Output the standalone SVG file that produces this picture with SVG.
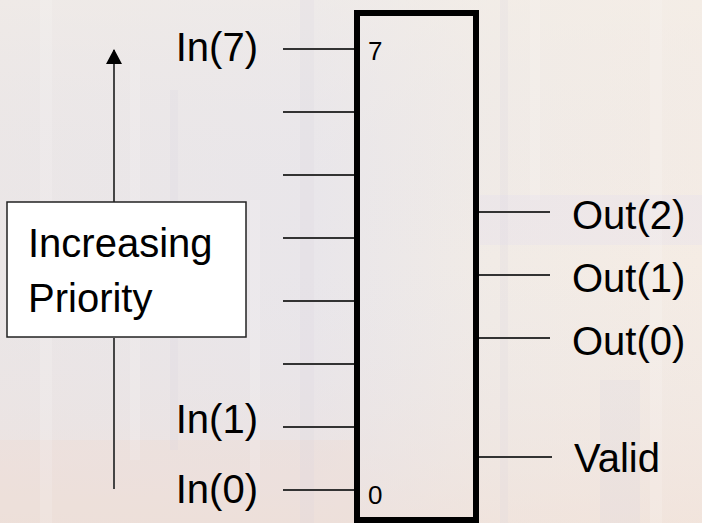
<svg xmlns="http://www.w3.org/2000/svg" width="702" height="523" viewBox="0 0 702 523">
<defs>
<linearGradient id="bgH" x1="0" y1="0" x2="1" y2="0">
<stop offset="0" stop-color="#ebe6e6"/>
<stop offset="0.45" stop-color="#e9e6ea"/>
<stop offset="0.7" stop-color="#f1ebe6"/>
<stop offset="1" stop-color="#f5ece4"/>
</linearGradient>
<linearGradient id="bgV" x1="0" y1="0" x2="0" y2="1">
<stop offset="0" stop-color="#f3eee8" stop-opacity="0.5"/>
<stop offset="0.5" stop-color="#e6e4ea" stop-opacity="0"/>
<stop offset="1" stop-color="#efded6" stop-opacity="0.55"/>
</linearGradient>
<marker id="arrow" viewBox="0 0 15 16" refX="14" refY="8" markerWidth="15" markerHeight="16" markerUnits="userSpaceOnUse" orient="auto">
<path d="M0 0 L15 8 L0 16 Z" fill="#000"/>
</marker>
</defs>
<style>
.wire{stroke:#333;stroke-width:1.8;fill:none}
.lbl{font-family:"Liberation Sans",Arial,sans-serif;font-size:40px;fill:#000}
.pin{font-family:"Liberation Sans",Arial,sans-serif;font-size:26px;fill:#000}
.box{fill:none;stroke:#000;stroke-width:6}
.stripe{fill:#ffffff;opacity:0.15}
.stripe2{fill:#d8d2dc;opacity:0.18}
</style>
<g id="background">
<rect x="0" y="0" width="702" height="523" fill="url(#bgH)"/>
<rect x="0" y="0" width="702" height="523" fill="url(#bgV)"/>
<rect x="480" y="195" width="222" height="50" fill="#e4dfee" opacity="0.3"/>
<rect x="0" y="440" width="360" height="83" fill="#efdcd2" opacity="0.3"/>
<rect class="stripe" x="40" y="0" width="12" height="523"/>
<rect class="stripe" x="130" y="60" width="10" height="400"/>
<rect class="stripe2" x="170" y="90" width="8" height="360"/>
<rect class="stripe" x="250" y="200" width="10" height="300"/>
<rect class="stripe2" x="300" y="0" width="14" height="523"/>
<rect class="stripe2" x="500" y="0" width="8" height="523"/>
<rect class="stripe" x="530" y="0" width="10" height="200"/>
<rect class="stripe2" x="600" y="380" width="40" height="143"/>
<rect class="stripe" x="650" y="0" width="12" height="523"/>
</g>
<g id="connectors">
<line class="wire" x1="283" y1="49" x2="355" y2="49"/>
<line class="wire" x1="283" y1="112" x2="355" y2="112"/>
<line class="wire" x1="283" y1="175" x2="355" y2="175"/>
<line class="wire" x1="283" y1="238" x2="355" y2="238"/>
<line class="wire" x1="283" y1="301" x2="355" y2="301"/>
<line class="wire" x1="283" y1="364" x2="355" y2="364"/>
<line class="wire" x1="283" y1="427" x2="355" y2="427"/>
<line class="wire" x1="283" y1="490" x2="355" y2="490"/>
<line class="wire" x1="478" y1="212" x2="550" y2="212"/>
<line class="wire" x1="478" y1="275" x2="550" y2="275"/>
<line class="wire" x1="478" y1="338" x2="550" y2="338"/>
<line class="wire" x1="478" y1="457" x2="552" y2="457"/>
<line class="wire" x1="114" y1="202" x2="114" y2="50" marker-end="url(#arrow)"/>
<line class="wire" x1="114" y1="338" x2="114" y2="489"/>
</g>
<g id="encoder">
<rect class="box" x="357" y="13" width="119" height="507"/>
<text class="pin" x="368" y="60">7</text>
<text class="pin" x="368" y="504">0</text>
</g>
<g id="priority">
<rect x="7" y="202" width="239" height="135" fill="#fff" stroke="#222" stroke-width="1.5"/>
<text class="lbl" x="28" y="257">Increasing</text>
<text class="lbl" x="28" y="312">Priority</text>
</g>
<g id="labels">
<text class="lbl" x="258" y="61" text-anchor="end">In(7)</text>
<text class="lbl" x="258" y="433" text-anchor="end">In(1)</text>
<text class="lbl" x="258" y="503" text-anchor="end">In(0)</text>
<text class="lbl" x="572" y="229">Out(2)</text>
<text class="lbl" x="572" y="292">Out(1)</text>
<text class="lbl" x="572" y="355">Out(0)</text>
<text class="lbl" x="574" y="472">Valid</text>
</g>
</svg>
